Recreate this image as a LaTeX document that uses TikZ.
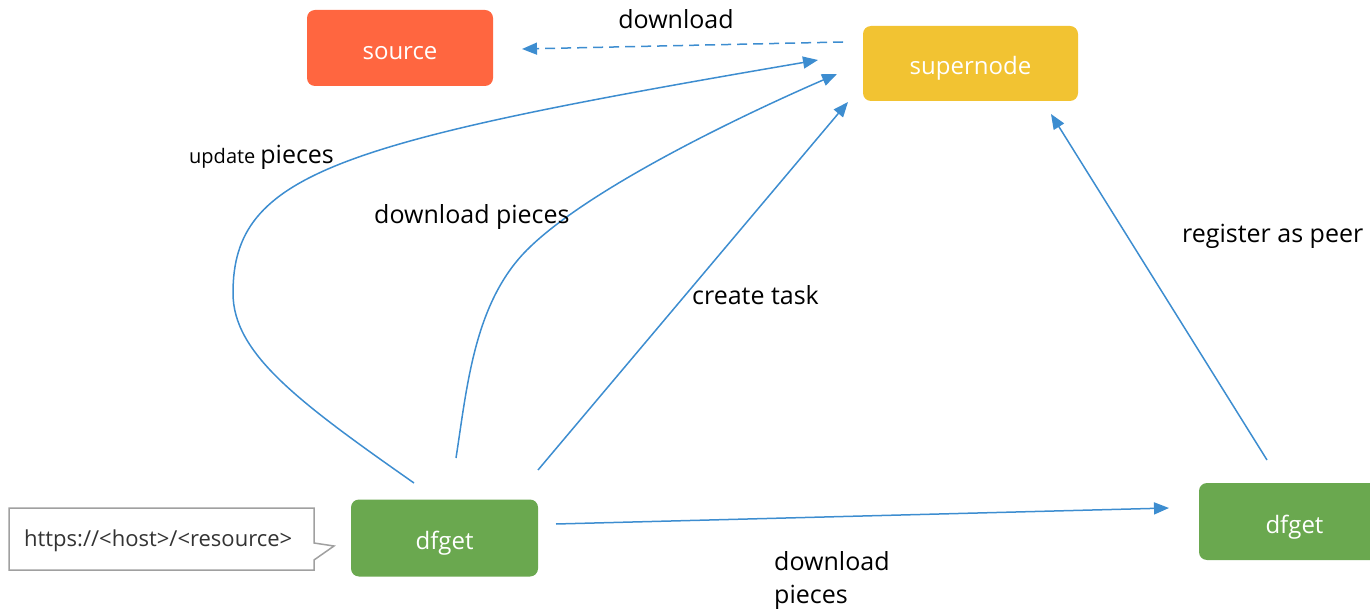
\documentclass[tikz,border=0pt]{standalone}
\usepackage{fontspec}
\setmainfont{Open Sans}
\usetikzlibrary{arrows.meta}
\definecolor{srcred}{RGB}{255,102,64}
\definecolor{snyellow}{RGB}{242,195,50}
\definecolor{dfgreen}{RGB}{106,168,79}
\definecolor{linkblue}{RGB}{61,141,208}
\definecolor{calloutgray}{RGB}{160,160,160}
\definecolor{urltext}{RGB}{51,51,51}
\tikzset{
  box/.style={rectangle, rounded corners=8pt, inner sep=0pt, text=white,
    text height=23pt, text depth=0pt,
    font=\fontsize{24}{28}\selectfont},
  link/.style={draw=linkblue, line width=1.5pt,
    -{Triangle[length=15pt,width=12pt]}},
  lbl/.style={inner sep=0pt, font=\fontsize{25}{29}\selectfont},
}
\begin{document}
\begin{tikzpicture}[x=1pt,y=-1pt]
\useasboundingbox (0,0) rectangle (1370,609);

% component boxes
\node[box, fill=srcred, minimum width=186pt, minimum height=76pt] (source) at (400,48) {source};
\node[box, fill=snyellow, minimum width=215pt, minimum height=75pt] (supernode) at (970.5,63.5) {supernode};
\node[box, fill=dfgreen, minimum width=187pt, minimum height=77pt] (dfgetA) at (444.5,538) {dfget};
\node[box, fill=dfgreen, minimum width=191pt, minimum height=77pt, text width=186pt, align=left] (dfgetB) at (1294.5,521.5) {\hspace{64pt}dfget};

% request callout beside the first dfget
\draw[draw=calloutgray, line width=1.5pt, fill=white]
  (9,508) -- (314,508) -- (314,543) -- (334,546) -- (314,560) -- (314,570) -- (9,570) -- cycle;
\node[anchor=west, inner sep=0pt, text=urltext, font=\fontsize{22}{26}\selectfont] (url) at (24,541) {https://<host>/<resource>};

% connector end points
\coordinate (dl-from) at (843,42);
\coordinate (dl-to) at (522,49);
\coordinate (up-from) at (414,483);
\coordinate (up-mid) at (233,293);
\coordinate (up-to) at (818,60);
\coordinate (dp-from) at (456,458);
\coordinate (dp-mid) at (524,253);
\coordinate (dp-to) at (837,74);
\coordinate (ct-from) at (538,470);
\coordinate (ct-to) at (848,102);
\coordinate (rp-from) at (1267,460);
\coordinate (rp-to) at (1051,114);
\coordinate (pp-from) at (556,524);
\coordinate (pp-to) at (1169,508);

% supernode fetches from the source
\draw[link, dash pattern=on 10pt off 6pt] (dl-from) -- (dl-to);
\node[lbl] (dl-lbl) at (676,19) {download};

% update pieces
\draw[link] (up-from) .. controls (297,401) and (233,353) .. (up-mid)
  .. controls (233,173) and (338,142) .. (up-to);
\node[anchor=base west, inner sep=0pt] (up-lbl) at (189,164) {{\fontsize{20}{24}\selectfont update}\hspace{5pt}{\fontsize{25}{29}\selectfont pieces}};

% download pieces from the supernode
\draw[link] (dp-from) .. controls (467,387) and (474,306) .. (dp-mid)
  .. controls (584,190) and (747,113) .. (dp-to);
\node[lbl, anchor=west] (dp-lbl) at (374,217) {download pieces};

% create task
\draw[link] (ct-from) -- (ct-to);
\node[lbl, anchor=west] (ct-lbl) at (692,295) {create task};

% register as peer
\draw[link] (rp-from) -- (rp-to);
\node[lbl, anchor=west] (rp-lbl) at (1182,236) {register as peer};

% peer to peer transfer
\draw[link] (pp-from) -- (pp-to);
\node[lbl, anchor=north west, align=left, font=\fontsize{25}{33}\selectfont] (pp-lbl) at (774,551) {download\\pieces};
\end{tikzpicture}
\end{document}
